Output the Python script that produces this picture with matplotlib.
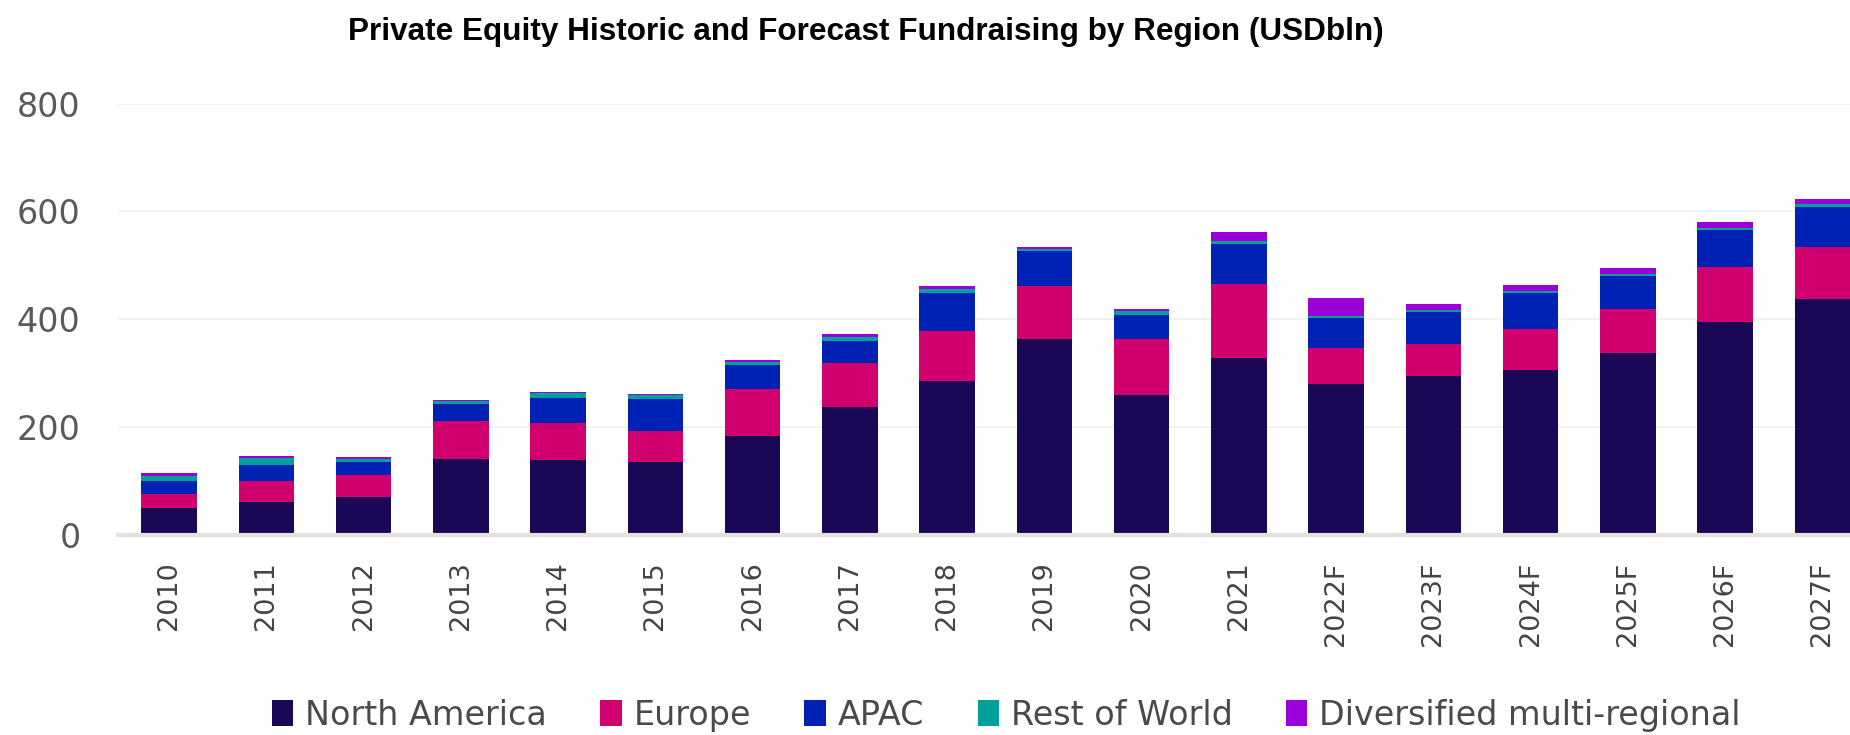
import matplotlib
matplotlib.use("Agg")
import matplotlib.pyplot as plt
import numpy as np

years = ["2010", "2011", "2012", "2013", "2014", "2015", "2016", "2017", "2018",
         "2019", "2020", "2021", "2022F", "2023F", "2024F", "2025F", "2026F", "2027F"]
north_america = [51, 62, 71, 141, 139, 135, 183, 237, 286, 364, 259, 329, 281, 295, 306, 337, 395, 437]
europe = [26, 39, 40, 71, 69, 58, 88, 83, 93, 98, 105, 137, 66, 60, 76, 82, 102, 97]
apac = [23, 29, 24, 31, 46, 60, 44, 40, 69, 64, 45, 74, 55, 59, 66, 61, 68, 74]
rest_of_world = [10, 12, 6, 6, 9, 7, 6, 8, 9, 5, 7, 6, 5, 4, 4, 5, 5, 5]
diversified = [5, 5, 3, 2, 3, 2, 4, 5, 4, 3, 4, 16, 33, 10, 11, 10, 10, 10]

series = [
    ("North America", north_america, "#1a0856"),
    ("Europe", europe, "#d0006f"),
    ("APAC", apac, "#0022b4"),
    ("Rest of World", rest_of_world, "#00a19a"),
    ("Diversified multi-regional", diversified, "#9b00d9"),
]

fig = plt.figure(figsize=(18.5, 7.35), dpi=100)
ax = fig.add_axes([0.0638, 0.272, 0.9362, 0.587])

x = np.arange(len(years))
bottom = np.zeros(len(years))
handles = []
for name, vals, col in series:
    v = np.array(vals, dtype=float)
    b = ax.bar(x, v, bottom=bottom, width=0.57, color=col, label=name, zorder=3)
    handles.append(b)
    bottom += v

ax.set_xlim(-0.525, len(years) - 1 + 0.285)
ax.set_ylim(0, 800)
ax.set_yticks([0, 200, 400, 600, 800])
ax.yaxis.grid(True, color="#f2f0ee", linewidth=1.2, zorder=0)
ax.set_axisbelow(True)
for s in ["top", "right", "left"]:
    ax.spines[s].set_visible(False)
ax.spines["bottom"].set_color("#e6e1dc")
ax.spines["bottom"].set_linewidth(3)
ax.spines["bottom"].set_zorder(4)

ax.set_xticks(x)
ax.set_xticklabels(years, rotation=90, fontsize=19.5, color="#444444", family="DejaVu Sans")
ax.tick_params(axis="x", length=0, pad=19)
ax.tick_params(axis="y", length=0, pad=27, labelsize=24, labelcolor="#5a5a5a")
for lab in ax.get_yticklabels():
    lab.set_family("DejaVu Sans")

fig.text(0.468, 0.956, "Private Equity Historic and Forecast Fundraising by Region (USDbln)",
         ha="center", va="center", fontsize=22.7, fontweight="bold", color="black",
         family="Liberation Sans")

fig.legend(handles=handles, labels=[s[0] for s in series], loc="center",
           bbox_to_anchor=(0.544, 0.027), ncol=5, frameon=False,
           prop={"family": "DejaVu Sans", "size": 24},
           handlelength=0.64, handleheight=0.8, handletextpad=0.36,
           columnspacing=1.6, labelcolor="#4a4a4a", borderpad=0.0)

fig.savefig("out.png", dpi=100)
